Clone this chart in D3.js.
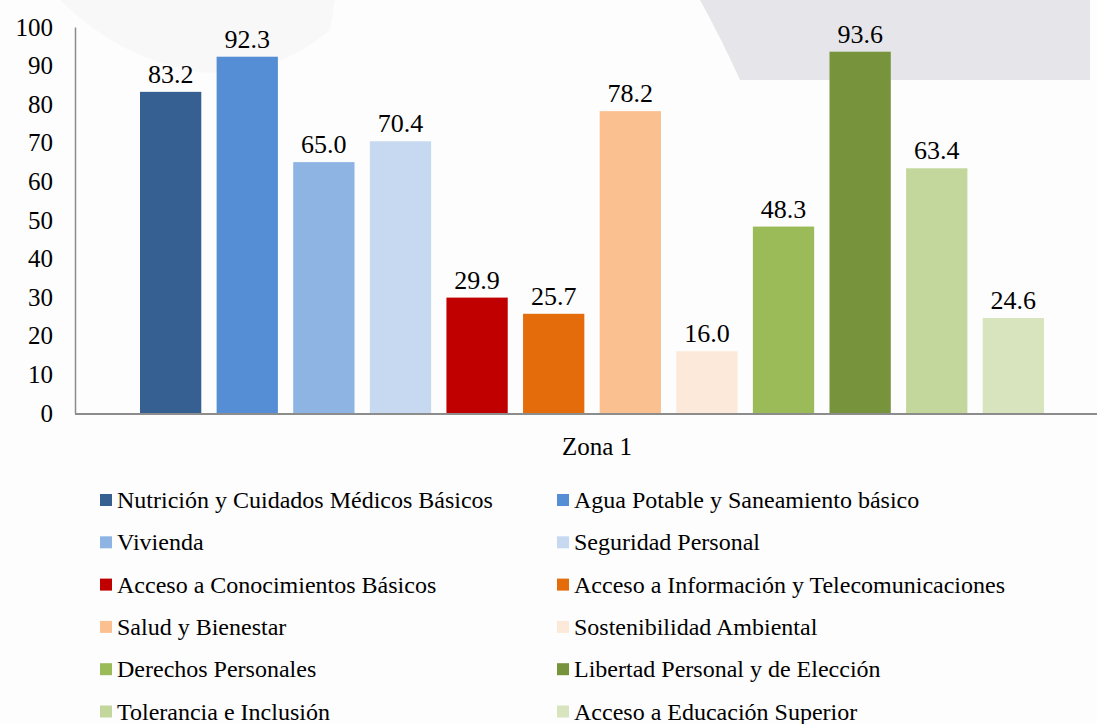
<!DOCTYPE html>
<html>
<head>
<meta charset="utf-8">
<script src="https://cdn.jsdelivr.net/npm/d3@7"></script>
<style>
  body { margin: 0; background: #fdfdfd; }
  svg { display: block; }
</style>
</head>
<body>
<div id="chart"></div>
<script>
// data
const categories = [
  "Nutrición y Cuidados Médicos Básicos",
  "Agua Potable y Saneamiento básico",
  "Vivienda",
  "Seguridad Personal",
  "Acceso a Conocimientos Básicos",
  "Acceso a Información y Telecomunicaciones",
  "Salud y Bienestar",
  "Sostenibilidad Ambiental",
  "Derechos Personales",
  "Libertad Personal y de Elección",
  "Tolerancia e Inclusión",
  "Acceso a Educación Superior"
];
const values = [83.2, 92.3, 65.0, 70.4, 29.9, 25.7, 78.2, 16.0, 48.3, 93.6, 63.4, 24.6];
const colors = ["#376092", "#558ed5", "#8eb4e3", "#c6d9f1", "#c00000", "#e46c0a",
                "#fac090", "#fde9d9", "#9bbb59", "#77933c", "#c3d69b", "#d7e4bd"];
const yTicks = [0, 10, 20, 30, 40, 50, 60, 70, 80, 90, 100];
const groupLabel = "Zona 1";

const width = 1097, height = 724;
const font = "'Liberation Serif', 'Times New Roman', serif";

const svg = d3.select('#chart')
  .append('svg')
  .attr('width', width)
  .attr('height', height)
  .style('font-family', font);

// faint watermark behind the chart
const wm = svg.append('g').attr('fill', '#e6e6ea');
wm.append('path')
  .attr('d', 'M700,0 L1090,0 L1090,80 L740,80 Q722,40 700,0 Z');
wm.append('path')
  .attr('d', 'M60,0 Q120,60 200,72 Q270,80 330,30 L335,0 Z')
  .attr('opacity', 0.2);

const y = d3.scaleLinear().domain([0, 100]).range([413, 27]);
const x = d3.scaleBand().domain(categories).range([140, 1044]).paddingInner(0.2).paddingOuter(0);

// bars
svg.selectAll('.bar')
  .data(categories)
  .enter()
  .append('rect')
  .attr('class', 'bar')
  .attr('x', d => x(d))
  .attr('y', (d, i) => y(values[i]))
  .attr('width', x.bandwidth())
  .attr('height', (d, i) => y(0) - y(values[i]))
  .attr('fill', (d, i) => colors[i]);

// value labels
svg.selectAll('.val')
  .data(categories)
  .enter()
  .append('text')
  .attr('class', 'val')
  .attr('x', d => x(d) + x.bandwidth() / 2)
  .attr('y', (d, i) => y(values[i]) - 9)
  .attr('text-anchor', 'middle')
  .style('font-family', font)
  .attr('font-size', 26)
  .attr('fill', '#000')
  .text((d, i) => values[i].toFixed(1));

// y axis
const yAxis = svg.append('g')
  .attr('transform', 'translate(75,0)')
  .call(d3.axisLeft(y).tickValues(yTicks).tickSize(0).tickPadding(22));
yAxis.attr('font-family', null);
yAxis.select('.domain').attr('stroke', '#8c8c8c').attr('stroke-width', 1.5);
yAxis.selectAll('text')
  .style('font-family', font)
  .attr('font-size', 25)
  .attr('fill', '#000');

// x baseline
svg.append('line')
  .attr('x1', 75).attr('x2', width)
  .attr('y1', y(0) + 1).attr('y2', y(0) + 1)
  .attr('stroke', '#8c8c8c')
  .attr('stroke-width', 2);

svg.append('text')
  .attr('x', 597)
  .attr('y', 455)
  .attr('text-anchor', 'middle')
  .style('font-family', font)
  .attr('font-size', 25)
  .attr('fill', '#000')
  .text(groupLabel);

// legend, two columns
const legend = svg.selectAll('.leg')
  .data(categories)
  .enter()
  .append('g')
  .attr('class', 'leg')
  .attr('transform', (d, i) => `translate(${i % 2 === 0 ? 100 : 557},${500 + Math.floor(i / 2) * 42.3})`);

legend.append('rect')
  .attr('x', 0).attr('y', -6)
  .attr('width', 12).attr('height', 12)
  .attr('fill', (d, i) => colors[i]);

legend.append('text')
  .attr('x', 17)
  .attr('y', 8)
  .style('font-family', font)
  .attr('font-size', 24)
  .attr('fill', '#000')
  .text(d => d);
</script>
</body>
</html>
